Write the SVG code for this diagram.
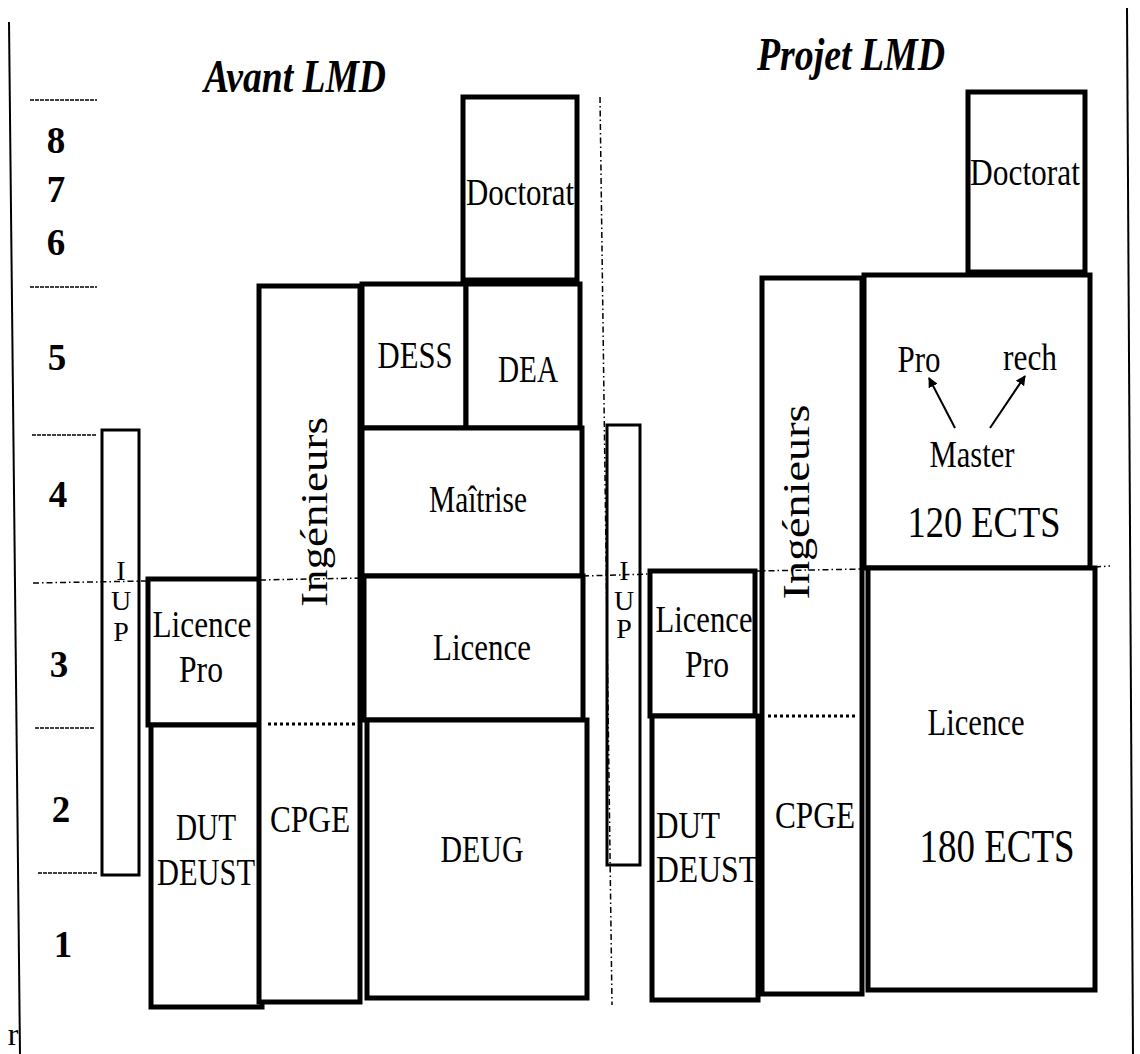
<svg xmlns="http://www.w3.org/2000/svg" width="1140" height="1054" viewBox="0 0 1140 1054">
<style>
.b{fill:#fff;stroke:#000;stroke-width:5}
.t{fill:#fff;stroke:#000;stroke-width:3}
text{font-family:"Liberation Serif","Tinos","Times New Roman","DejaVu Serif",serif;fill:#000;text-anchor:middle}
.tx{font-size:38px}
.s{font-size:28px}
.n{font-size:37px;font-weight:bold}
.h{font-size:46px;font-weight:bold;font-style:italic}
.dd{fill:none;stroke:#000;stroke-width:1.5;stroke-dasharray:6 3 1.5 3}
.dt{fill:none;stroke:#000;stroke-width:3;stroke-dasharray:3 3}
.tk{fill:none;stroke:#000;stroke-width:1.5;stroke-dasharray:4 1}
.ar{stroke:#000;stroke-width:2;marker-end:url(#ah)}
</style>
<defs>
<marker id="ah" viewBox="0 0 10 10" refX="9" refY="5" markerWidth="5" markerHeight="5" orient="auto"><path d="M0,0 L10,5 L0,10 z" fill="#000"/></marker>
</defs>
<rect width="1140" height="1054" fill="#fff"/>
<g id="frame">
<line x1="9" y1="22" x2="20" y2="1054" stroke="#000" stroke-width="2"/>
<line x1="1127" y1="8" x2="1133" y2="1054" stroke="#000" stroke-width="2"/>
<text x="13" y="1045" class="tx" style="font-size:32px">r</text>
</g>
<g id="titles">
<text x="295" y="92" class="h" textLength="182" lengthAdjust="spacingAndGlyphs">Avant LMD</text>
<text x="851" y="70" class="h" textLength="188" lengthAdjust="spacingAndGlyphs">Projet LMD</text>
</g>
<g id="scale">
<line x1="30" y1="100" x2="97" y2="100" class="tk"/>
<line x1="30" y1="287" x2="97" y2="287" class="tk"/>
<line x1="32" y1="435" x2="97" y2="435" class="tk"/>
<line x1="35" y1="728" x2="95" y2="728" class="tk"/>
<line x1="38" y1="873" x2="98" y2="873" class="tk"/>
<text x="56" y="153" class="n">8</text>
<text x="56" y="202" class="n">7</text>
<text x="56" y="255" class="n">6</text>
<text x="57" y="370" class="n">5</text>
<text x="58" y="507" class="n">4</text>
<text x="59" y="677" class="n">3</text>
<text x="61" y="822" class="n">2</text>
<text x="63" y="957" class="n">1</text>
</g>
<g id="avant-iup">
<rect x="102" y="430" width="37" height="445" class="t"/>
<text x="121" y="580" class="tx s">I</text>
<text x="121" y="610" class="tx s">U</text>
<text x="121" y="641" class="tx s">P</text>
</g>
<g id="avant-licpro">
<rect x="148" y="579" width="112" height="146" class="b"/>
<text x="202" y="637" class="tx" textLength="99" lengthAdjust="spacingAndGlyphs">Licence</text>
<text x="201" y="682" class="tx" textLength="44" lengthAdjust="spacingAndGlyphs">Pro</text>
</g>
<g id="avant-dut">
<rect x="151" y="725" width="111" height="282" class="b"/>
<text x="206" y="840" class="tx" textLength="60" lengthAdjust="spacingAndGlyphs">DUT</text>
<text x="206" y="885" class="tx" textLength="98" lengthAdjust="spacingAndGlyphs">DEUST</text>
</g>
<g id="avant-ing">
<rect x="259" y="286" width="101" height="716" class="b"/>
<line x1="268" y1="724" x2="357" y2="724" class="dt"/>
<text transform="translate(327,512) rotate(-90)" class="tx" textLength="190" lengthAdjust="spacingAndGlyphs">Ingénieurs</text>
<text x="310" y="832" class="tx" textLength="80" lengthAdjust="spacingAndGlyphs">CPGE</text>
</g>
<g id="avant-doctorat">
<rect x="463" y="97" width="114" height="183" class="b"/>
<text x="520" y="205" class="tx" textLength="108" lengthAdjust="spacingAndGlyphs">Doctorat</text>
</g>
<g id="avant-dess">
<rect x="362" y="284" width="104" height="144" class="b"/>
<text x="415" y="368" class="tx" textLength="75" lengthAdjust="spacingAndGlyphs">DESS</text>
</g>
<g id="avant-dea">
<rect x="466" y="284" width="114" height="144" class="b"/>
<text x="528" y="382" class="tx" textLength="60" lengthAdjust="spacingAndGlyphs">DEA</text>
</g>
<g id="avant-maitrise">
<rect x="362" y="428" width="220" height="148" class="b"/>
<text x="478" y="512" class="tx" textLength="98" lengthAdjust="spacingAndGlyphs">Maîtrise</text>
</g>
<g id="avant-licence">
<rect x="364" y="576" width="219" height="144" class="b"/>
<text x="482" y="660" class="tx" textLength="98" lengthAdjust="spacingAndGlyphs">Licence</text>
</g>
<g id="avant-deug">
<rect x="367" y="720" width="220" height="278" class="b"/>
<text x="482" y="862" class="tx" textLength="83" lengthAdjust="spacingAndGlyphs">DEUG</text>
</g>
<g id="projet-iup">
<rect x="607" y="425" width="33" height="440" class="t"/>
<text x="624" y="580" class="tx s">I</text>
<text x="624" y="610" class="tx s">U</text>
<text x="624" y="638" class="tx s">P</text>
</g>
<g id="projet-licpro">
<rect x="650" y="571" width="105" height="145" class="b"/>
<text x="704" y="632" class="tx" textLength="97" lengthAdjust="spacingAndGlyphs">Licence</text>
<text x="707" y="677" class="tx" textLength="44" lengthAdjust="spacingAndGlyphs">Pro</text>
</g>
<g id="projet-dut">
<rect x="652" y="716" width="106" height="284" class="b"/>
<text x="656" y="838" class="tx" style="text-anchor:start" textLength="64" lengthAdjust="spacingAndGlyphs">DUT</text>
<text x="656" y="882" class="tx" style="text-anchor:start" textLength="102" lengthAdjust="spacingAndGlyphs">DEUST</text>
</g>
<g id="projet-ing">
<rect x="762" y="278" width="100" height="716" class="b"/>
<line x1="768" y1="716" x2="858" y2="716" class="dt"/>
<text transform="translate(809,502) rotate(-90)" class="tx" textLength="195" lengthAdjust="spacingAndGlyphs">Ingénieurs</text>
<text x="815" y="828" class="tx" textLength="80" lengthAdjust="spacingAndGlyphs">CPGE</text>
</g>
<g id="projet-doctorat">
<rect x="968" y="92" width="117" height="180" class="b"/>
<text x="1025" y="185" class="tx" textLength="110" lengthAdjust="spacingAndGlyphs">Doctorat</text>
</g>
<g id="projet-master">
<rect x="864" y="275" width="226" height="293" class="b"/>
<text x="919" y="372" class="tx" textLength="43" lengthAdjust="spacingAndGlyphs">Pro</text>
<text x="1030" y="370" class="tx" textLength="54" lengthAdjust="spacingAndGlyphs">rech</text>
<text x="972" y="467" class="tx" textLength="85" lengthAdjust="spacingAndGlyphs">Master</text>
<text x="984" y="537" class="tx" style="font-size:45px" textLength="153" lengthAdjust="spacingAndGlyphs">120 ECTS</text>
</g>
<g id="projet-licence">
<rect x="868" y="568" width="227" height="422" class="b"/>
<text x="976" y="735" class="tx" textLength="97" lengthAdjust="spacingAndGlyphs">Licence</text>
<text x="997" y="862" class="tx" style="font-size:46px" textLength="155" lengthAdjust="spacingAndGlyphs">180 ECTS</text>
</g>
<g id="connectors">
<line x1="33" y1="583" x2="148" y2="581" class="dd"/>
<line x1="260" y1="580" x2="362" y2="578" class="dd"/>
<line x1="583" y1="576" x2="650" y2="574" class="dd"/>
<line x1="755" y1="571" x2="864" y2="569" class="dd"/>
<line x1="1095" y1="567" x2="1110" y2="566" class="dd"/>
<line x1="600" y1="97" x2="612" y2="1005" class="dd"/>
<line x1="955" y1="428" x2="929" y2="378" class="ar"/>
<line x1="990" y1="428" x2="1025" y2="376" class="ar"/>
</g>
</svg>
